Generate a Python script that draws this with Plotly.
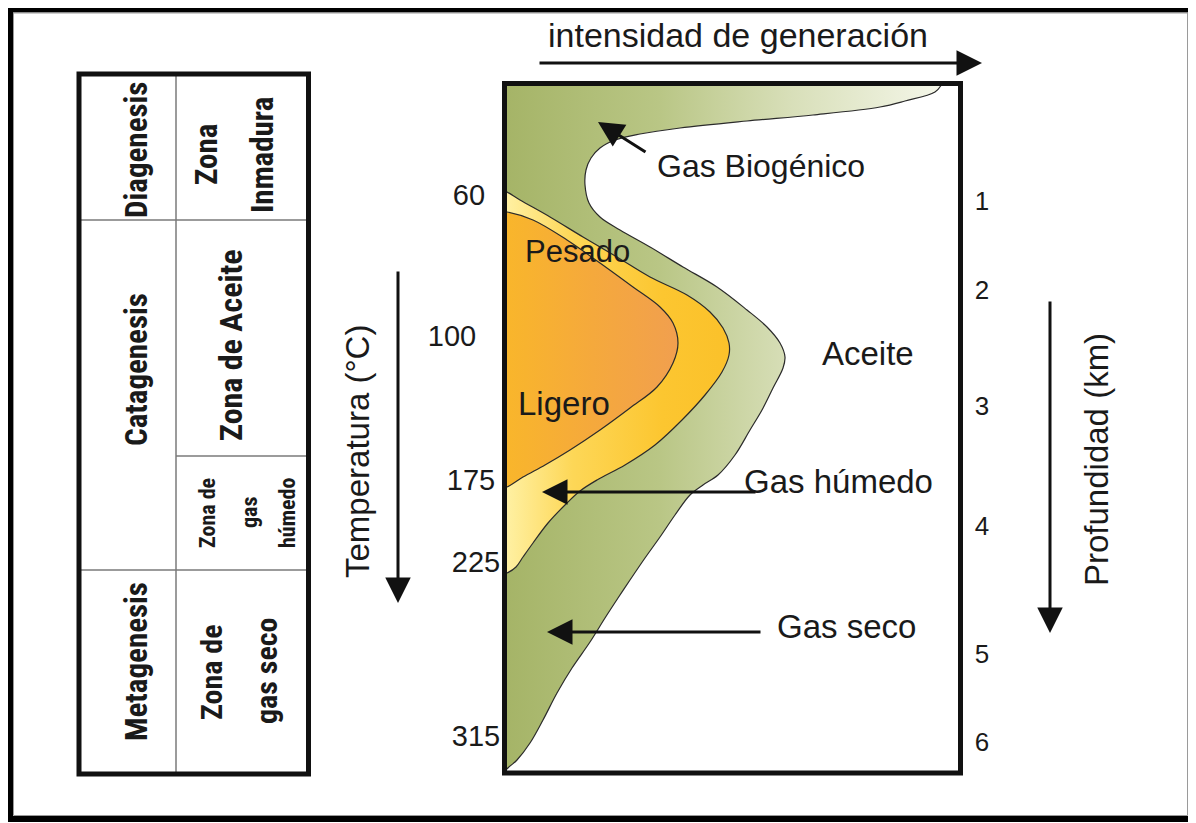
import plotly.graph_objects as go

# page offset of the plot div (browser body margin) -> keep data in picture pixels
OFF = 8
W, H = 1196, 823

# ------------------------------------------------------------------ data
stages = ["Diagenesis", "Catagenesis", "Metagenesis"]
zone_inmadura = ["Zona", "Inmadura"]
zone_aceite = ["Zona de Aceite"]
zone_gas_humedo = ["Zona de", "gas", "húmedo"]
zone_gas_seco = ["Zona de", "gas seco"]
temp_labels = ["60", "100", "175", "225", "315"]
depth_labels = ["1", "2", "3", "4", "5", "6"]
product_labels = ["Gas Biogénico", "Pesado", "Ligero", "Aceite", "Gas húmedo", "Gas seco"]
axis_titles = ["Temperatura (°C)", "Profundidad (km)", "intensidad de generación"]

# Boundaries (x = generation intensity, y = burial position)
gas_x = [495, 495, 700, 946, 942, 935, 905, 880, 813, 747, 680, 640, 615, 600, 591,
         586, 585, 589, 600, 620, 650, 683, 717, 747, 767, 780, 785, 783, 773, 762,
         750, 735, 718, 703, 690, 675, 660, 645, 630, 618, 605, 590, 572, 557, 543,
         530, 517, 505, 495]
gas_y = [790, 76, 76, 76, 84, 92, 101, 107, 115, 121, 128, 134, 140, 148, 158,
         170, 185, 203, 217, 230, 247, 267, 287, 310, 327, 343, 357, 368, 388, 410,
         430, 455, 475, 485, 495, 515, 537, 558, 580, 598, 618, 642, 668, 693, 720,
         743, 760, 771, 790]

oil_x = [495, 505, 520, 550, 583, 617, 650, 687, 710, 723, 729, 729, 722, 705, 682,
         655, 625, 597, 580, 566, 548, 533, 523, 516, 507, 495]
oil_y = [188, 191, 200, 217, 237, 257, 277, 295, 312, 328, 343, 355, 372, 395, 420,
         445, 465, 480, 491, 504, 523, 543, 557, 567, 573, 576]

light_x = [495, 507, 533, 567, 600, 633, 660, 673, 678, 673, 657, 630, 600, 570,
           545, 523, 507, 495]
light_y = [211, 212, 220, 240, 263, 287, 307, 323, 343, 363, 387, 408, 430, 450,
           465, 477, 487, 489]

# ------------------------------------------------------------------ geometry / styles
BOX = dict(x0=504.5, x1=960.5, y0=83.5, y1=773)
TABLE = dict(x0=79, x1=308.5, y0=74, y1=774, xmid=176, y_dia=220, y_meta=570, y_hum=456)
temp_pos = [(469, 198), (452, 339), (471, 483), (476, 565), (476, 739)]
depth_pos = [(982, 203), (982, 292), (982, 408), (982, 528), (982, 656), (982, 744)]
product_pos = [(761, 166), (577, 251), (564, 403), (868, 353), (838, 481), (846, 626)]

SANS = "Liberation Sans, Arial, Helvetica, sans-serif"
NARROW = "Roboto Condensed, Liberation Sans Narrow, DejaVu Sans Condensed, sans-serif"
INK = "#1a1a1a"

fig = go.Figure()


def envelope(xs, ys, scale, x0, x1):
    return go.Scatter(
        x=xs, y=ys, mode="lines",
        line=dict(color="#2b2b2b", width=1.2, shape="spline", smoothing=1.0),
        fill="toself",
        fillgradient=dict(type="horizontal", colorscale=scale, start=x0, stop=x1),
        xaxis="x2", yaxis="y2", hoverinfo="skip", showlegend=False,
    )


fig.add_trace(envelope(gas_x, gas_y,
                       [[0, "#a5b467"], [0.35, "#b9c685"], [0.65, "#d8dfb9"], [1, "#f5f7ea"]],
                       505, 945))
fig.add_trace(envelope(oil_x, oil_y,
                       [[0, "#fff1a4"], [0.3, "#fdd757"], [0.7, "#fcc630"], [1, "#fbc12a"]],
                       505, 730))
fig.add_trace(envelope(light_x, light_y,
                       [[0, "#f9b62b"], [0.5, "#f5a93c"], [1, "#f19f4f"]],
                       505, 680))

# numeric scale labels
fig.add_trace(go.Scatter(
    x=[p[0] for p in temp_pos], y=[p[1] for p in temp_pos], text=temp_labels,
    mode="text", textposition="middle center",
    textfont=dict(family=SANS, size=29, color=INK),
    hoverinfo="skip", showlegend=False, xaxis="x", yaxis="y"))
fig.add_trace(go.Scatter(
    x=[p[0] for p in depth_pos], y=[p[1] for p in depth_pos], text=depth_labels,
    mode="text", textposition="middle center",
    textfont=dict(family=SANS, size=26, color=INK),
    hoverinfo="skip", showlegend=False, xaxis="x", yaxis="y"))

shapes = []
# outer frame
shapes.append(dict(type="rect", xref="x", yref="y", x0=10, x1=1191, y0=9.5, y1=819,
                   line=dict(color="#000", width=6), layer="above"))
shapes.append(dict(type="rect", xref="x", yref="y", x0=13.5, x1=1187.5, y0=13, y1=815.5,
                   line=dict(color="#9a9a9a", width=1), layer="above"))
# diagram box
shapes.append(dict(type="rect", xref="x", yref="y", **BOX,
                   line=dict(color="#111", width=5), layer="above"))
# table
T = TABLE
grey = dict(color="#7a7a7a", width=1.5)
shapes += [
    dict(type="line", xref="x", yref="y", x0=T["xmid"], x1=T["xmid"], y0=T["y0"], y1=T["y1"], line=grey),
    dict(type="line", xref="x", yref="y", x0=T["x0"], x1=T["x1"], y0=T["y_dia"], y1=T["y_dia"], line=grey),
    dict(type="line", xref="x", yref="y", x0=T["x0"], x1=T["x1"], y0=T["y_meta"], y1=T["y_meta"], line=grey),
    dict(type="line", xref="x", yref="y", x0=T["xmid"], x1=T["x1"], y0=T["y_hum"], y1=T["y_hum"], line=grey),
    dict(type="rect", xref="x", yref="y", x0=T["x0"], x1=T["x1"], y0=T["y0"], y1=T["y1"],
         line=dict(color="#111", width=5)),
]

ann = []


def vtext(text, x, y, size, family=NARROW, bold=True):
    ann.append(dict(text=text, x=x, y=y, xref="x", yref="y", showarrow=False,
                    textangle=-90, xanchor="center", yanchor="middle",
                    font=dict(family=family, size=size, color=INK,
                              weight="bold" if bold else "normal")))


# table texts
vtext(stages[0], 136, 150, 31)
vtext(stages[1], 136, 370, 31)
vtext(stages[2], 136, 662, 31)
vtext(zone_inmadura[0], 206, 155, 31)
vtext(zone_inmadura[1], 262, 155, 31)
vtext(zone_aceite[0], 231, 345, 32)
vtext(zone_gas_humedo[0], 207, 513, 22)
vtext(zone_gas_humedo[1], 249, 513, 22)
vtext(zone_gas_humedo[2], 287, 513, 22)
vtext(zone_gas_seco[0], 211, 672, 30)
vtext(zone_gas_seco[1], 266, 671, 30)

# axis titles
vtext(axis_titles[0], 357, 452, 33, family=SANS, bold=False)
vtext(axis_titles[1], 1096, 460, 33, family=SANS, bold=False)
ann.append(dict(text=axis_titles[2], x=738, y=35, xref="x", yref="y", showarrow=False,
                font=dict(family=SANS, size=34, color=INK)))

# product labels
sizes = [32, 31, 33, 33, 33, 33]
for lab, (px, py), s in zip(product_labels, product_pos, sizes):
    ann.append(dict(text=lab, x=px, y=py, xref="x", yref="y", showarrow=False,
                    font=dict(family=SANS, size=s, color=INK)))

# arrows (tail -> tip)
arrows = [
    ((538, 63), (982, 63)),
    ((398, 270), (398, 603)),
    ((1050, 300), (1050, 633)),
    ((647, 153), (598, 122)),
    ((757, 492), (542, 492)),
    ((762, 632), (547, 632)),
]
for (tx, ty), (hx, hy) in arrows:
    ann.append(dict(text="", x=hx, y=hy, ax=tx, ay=ty, xref="x", yref="y",
                    axref="x", ayref="y", showarrow=True, arrowhead=2,
                    arrowsize=1.7, arrowwidth=3, arrowcolor="#111", standoff=0,
                    startstandoff=0))

hidden = dict(visible=False, showgrid=False, zeroline=False, fixedrange=True)
FW, FH = W - OFF, H - OFF
fig.update_layout(
    width=FW, height=FH, margin=dict(l=0, r=0, t=0, b=0),
    paper_bgcolor="white", plot_bgcolor="rgba(0,0,0,0)",
    xaxis=dict(range=[OFF, W], domain=[0, 1], **hidden),
    yaxis=dict(range=[H, OFF], domain=[0, 1], **hidden),
    xaxis2=dict(range=[BOX["x0"], BOX["x1"]],
                domain=[(BOX["x0"] - OFF) / FW, (BOX["x1"] - OFF) / FW], anchor="y2", **hidden),
    yaxis2=dict(range=[BOX["y1"], BOX["y0"]],
                domain=[1 - (BOX["y1"] - OFF) / FH, 1 - (BOX["y0"] - OFF) / FH],
                anchor="x2", **hidden),
    shapes=shapes, annotations=ann, showlegend=False,
)

fig.write_html("out.html")
